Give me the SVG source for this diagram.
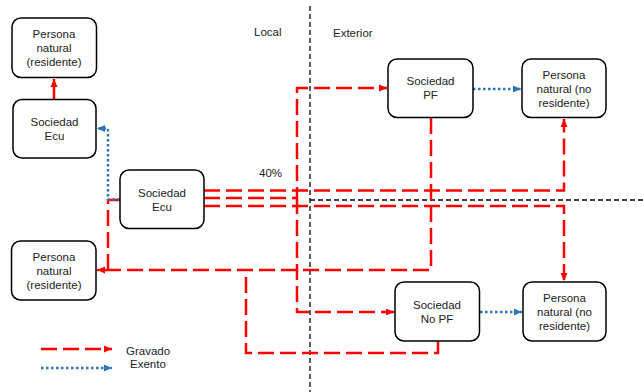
<svg xmlns="http://www.w3.org/2000/svg" width="643" height="392" viewBox="0 0 643 392">
<defs>
<marker id="ar" markerUnits="userSpaceOnUse" markerWidth="9" markerHeight="8" refX="8" refY="4" orient="auto"><path d="M0,0.5 L8,4 L0,7.5 z" fill="#FF0000"/></marker>
<marker id="ab" markerUnits="userSpaceOnUse" markerWidth="9" markerHeight="8" refX="8" refY="4" orient="auto"><path d="M0,0.5 L8,4 L0,7.5 z" fill="#2E75B6"/></marker>
</defs>
<style>
.box{fill:#fff;stroke:#000;stroke-width:1.5}
.t{font-family:"Liberation Sans",Arial,sans-serif;font-size:11.5px;fill:#222;text-anchor:middle}
.l{font-family:"Liberation Sans",Arial,sans-serif;font-size:11.5px;fill:#222}
.div{fill:none;stroke:#000;stroke-width:1.3;stroke-dasharray:5 3}
.red{fill:none;stroke:#FF0000;stroke-width:2.5;stroke-dasharray:16 6}
.redsolid{fill:none;stroke:#FF0000;stroke-width:2.5}
.blue{fill:none;stroke:#2E75B6;stroke-width:2.5;stroke-dasharray:2.5 2.5}
</style>
<rect width="643" height="392" fill="#fff"/>
<g id="dividers">
<path class="div" d="M310,6 V392"/>
<path class="div" d="M310,200 H643"/>
</g>
<g id="labels">
<text class="l" x="254" y="36">Local</text>
<text class="l" x="333" y="37">Exterior</text>
<text class="l" x="259" y="177">40%</text>
<text class="l" x="126" y="355">Gravado</text>
<text class="l" x="130" y="368">Exento</text>
</g>
<g id="connectors">
<path class="redsolid" d="M54,99 V79" marker-end="url(#ar)"/>
<path class="red" d="M204,190.5 H564 V119" marker-end="url(#ar)"/>
<path class="red" d="M204,198 H297 V88 H387" marker-end="url(#ar)"/>
<path class="red" d="M297,198 V312 H394" marker-end="url(#ar)"/>
<path class="red" d="M204,206 H564 V281" marker-end="url(#ar)"/>
<path class="red" d="M431,118 V270 H97" marker-end="url(#ar)"/>
<path class="red" d="M120,200 H108 V270"/>
<path class="red" d="M438,341 V353 H246 V270"/>
<path class="blue" d="M120,199.5 H108 V128.5 H97" marker-end="url(#ab)"/>
<path class="blue" d="M473,89 H521" marker-end="url(#ab)"/>
<path class="blue" d="M480,312 H522" marker-end="url(#ab)"/>
<path class="red" d="M41,349 H112" marker-end="url(#ar)"/>
<path class="blue" d="M41,368 H112" marker-end="url(#ab)"/>
</g>
<g id="pn-res-top">
<rect class="box" x="12" y="18" width="84.5" height="59.5" rx="9"/>
<text class="t" x="54" y="38">Persona</text>
<text class="t" x="54" y="52">natural</text>
<text class="t" x="54" y="66">(residente)</text>
</g>
<g id="soc-ecu-left">
<rect class="box" x="13" y="99.5" width="83" height="58.5" rx="9"/>
<text class="t" x="54.5" y="126">Sociedad</text>
<text class="t" x="54.5" y="140">Ecu</text>
</g>
<g id="soc-ecu-center">
<rect class="box" x="120" y="170" width="84" height="58.5" rx="9"/>
<text class="t" x="162" y="197">Sociedad</text>
<text class="t" x="162" y="211">Ecu</text>
</g>
<g id="pn-res-bottom">
<rect class="box" x="11.5" y="241" width="84.5" height="59" rx="9"/>
<text class="t" x="54" y="261">Persona</text>
<text class="t" x="54" y="275">natural</text>
<text class="t" x="54" y="289">(residente)</text>
</g>
<g id="soc-pf">
<rect class="box" x="388" y="59" width="85" height="58.5" rx="9"/>
<text class="t" x="430.5" y="85">Sociedad</text>
<text class="t" x="430.5" y="99">PF</text>
</g>
<g id="pn-nores-top">
<rect class="box" x="522" y="59" width="84" height="58.5" rx="9"/>
<text class="t" x="564" y="79">Persona</text>
<text class="t" x="564" y="93">natural (no</text>
<text class="t" x="564" y="107">residente)</text>
</g>
<g id="soc-nopf">
<rect class="box" x="395" y="282" width="84.5" height="59" rx="9"/>
<text class="t" x="437" y="309">Sociedad</text>
<text class="t" x="437" y="323">No PF</text>
</g>
<g id="pn-nores-bottom">
<rect class="box" x="523" y="282" width="83" height="59" rx="9"/>
<text class="t" x="564.5" y="302">Persona</text>
<text class="t" x="564.5" y="316">natural (no</text>
<text class="t" x="564.5" y="330">residente)</text>
</g>
</svg>
